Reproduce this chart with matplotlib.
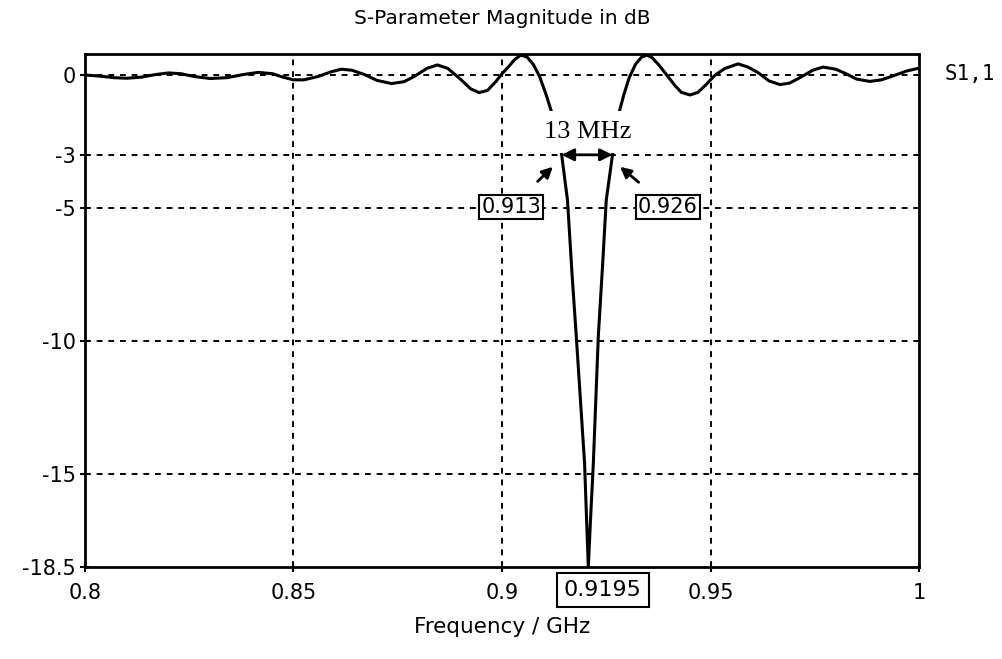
#!/usr/bin/env python3
"""S11 magnitude plot with -3 dB bandwidth markers"""
import matplotlib
matplotlib.use('Agg')
import matplotlib.pyplot as plt

# curve (GHz, dB)
freq = [0.800, 0.8035, 0.807, 0.810, 0.8135, 0.817, 0.820, 0.823, 0.826, 0.830,
        0.834, 0.838, 0.8415, 0.845, 0.8475, 0.850, 0.8525, 0.856, 0.859, 0.8615,
        0.864, 0.867, 0.870, 0.8735, 0.8765, 0.879, 0.882, 0.8845, 0.887, 0.890,
        0.8925, 0.8945, 0.8965, 0.8985, 0.900, 0.9015, 0.903, 0.9045, 0.906, 0.9075,
        0.909, 0.9105, 0.912, 0.9135, 0.9143, 0.9157, 0.9168, 0.9178, 0.9188, 0.9198,
        0.9203, 0.9207, 0.9212, 0.9219, 0.9225, 0.9231, 0.9241, 0.9250, 0.9265, 0.9272,
        0.9280, 0.9292, 0.9305, 0.9320, 0.9335, 0.9348, 0.936, 0.9375, 0.9395, 0.9415,
        0.943, 0.9451, 0.947, 0.949, 0.9511, 0.9535, 0.9566, 0.959, 0.9615, 0.964,
        0.9667, 0.969, 0.972, 0.9745, 0.9770, 0.980, 0.9825, 0.985, 0.9882, 0.991,
        0.994, 0.997, 1.000]
s11_db = [0.00, -0.04, -0.10, -0.12, -0.08, 0.02, 0.08, 0.05, -0.05, -0.13,
          -0.10, 0.02, 0.10, 0.05, -0.08, -0.18, -0.18, -0.05, 0.12, 0.22,
          0.18, 0.02, -0.20, -0.32, -0.25, -0.05, 0.25, 0.38, 0.25, -0.15,
          -0.52, -0.66, -0.58, -0.25, 0.05, 0.30, 0.58, 0.75, 0.68, 0.40,
          -0.05, -0.70, -1.45, -2.3, -3.0, -4.7, -7.5, -9.8, -12.2, -14.6,
          -16.8, -18.5, -16.8, -14.6, -12.2, -9.8, -7.2, -4.7, -3.0, -2.2,
          -1.45, -0.75, -0.10, 0.40, 0.68, 0.75, 0.65, 0.40, 0.0, -0.40,
          -0.65, -0.75, -0.65, -0.35, 0.00, 0.25, 0.42, 0.30, 0.08, -0.22,
          -0.36, -0.30, -0.05, 0.18, 0.30, 0.22, 0.05, -0.15, -0.24, -0.18,
          -0.02, 0.15, 0.26]

xticks = [0.8, 0.85, 0.9, 0.95, 1.0]
xtick_labels = ['0.8', '0.85', '0.9', '0.95', '1']
yticks = [0, -3, -5, -10, -15, -18.5]
ytick_labels = ['0', '-3', '-5', '-10', '-15', '-18.5']

f_low, f_high, f_res = 0.913, 0.926, 0.9195
f_low_pt, f_high_pt = 0.9143, 0.9265

fig = plt.figure(figsize=(10.02, 6.59), dpi=100)
ax = fig.add_axes([0.0848, 0.1396, 0.8324, 0.778])

ax.plot(freq, s11_db, color='black', lw=2.2, zorder=3)

ax.set_xlim(0.8, 1.0)
ax.set_ylim(-18.5, 0.78)
ax.set_xticks(xticks)
ax.set_xticklabels(xtick_labels)
ax.set_yticks(yticks)
ax.set_yticklabels(ytick_labels)

# dashed grid, no lines on the frame itself
for x in xticks[1:-1]:
    ax.axvline(x, color='black', ls=(0, (3, 3)), lw=1.4, zorder=1)
for y in yticks[:-1]:
    ax.axhline(y, color='black', ls=(0, (3, 3)), lw=1.4, zorder=1)

for s in ax.spines.values():
    s.set_linewidth(2)
ax.tick_params(direction='inout', length=7, width=1.5, labelsize=15)
ax.tick_params(axis='x', pad=8)
ax.tick_params(axis='y', pad=3)

ax.set_title('S-Parameter Magnitude in dB', fontsize=14.5, pad=22)
ax.set_xlabel('Frequency / GHz', fontsize=15.5, labelpad=10)

# trace name on the right
fig.text(0.943, 0.888, 'S1,1', fontsize=15, family='DejaVu Sans Mono', va='center')

# bandwidth marker
ax.text(0.9205, -2.15, '13 MHz', fontsize=19, family='Liberation Serif',
        ha='center', va='center', zorder=4,
        bbox=dict(facecolor='white', edgecolor='none', pad=7))
ax.annotate('', xy=(f_low_pt, -3), xytext=(f_high_pt, -3),
            arrowprops=dict(arrowstyle='<|-|>', color='black', lw=2,
                            mutation_scale=18, shrinkA=0, shrinkB=0), zorder=5)

box = dict(boxstyle='square,pad=0.1', facecolor='white', edgecolor='black', lw=1.5)
ax.annotate(f'{f_low:.3f}', xy=(0.9122, -3.45), xytext=(0.9022, -4.95),
            fontsize=15, ha='center', va='center', bbox=box, zorder=5,
            arrowprops=dict(arrowstyle='-|>', color='black', lw=2,
                            mutation_scale=16, shrinkA=13, shrinkB=0))
ax.annotate(f'{f_high:.3f}', xy=(0.9283, -3.45), xytext=(0.9398, -4.95),
            fontsize=15, ha='center', va='center', bbox=box, zorder=5,
            arrowprops=dict(arrowstyle='-|>', color='black', lw=2,
                            mutation_scale=16, shrinkA=13, shrinkB=0))

# resonance frequency box under the axis
ax.text(0.9242, -0.045, f'{f_res}', transform=ax.get_xaxis_transform(),
        fontsize=16, ha='center', va='center',
        bbox=dict(boxstyle='square,pad=0.3', facecolor='white',
                  edgecolor='black', lw=1.5))

fig.savefig('out.png', dpi=100)
